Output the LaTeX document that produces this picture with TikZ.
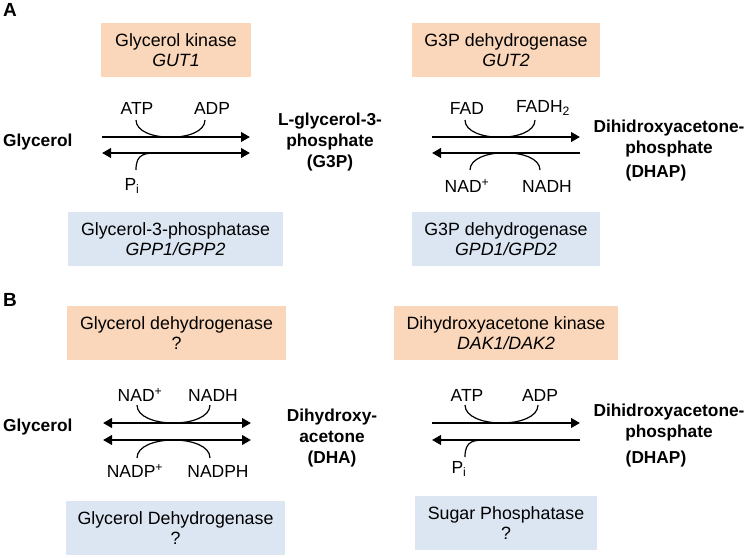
\documentclass[tikz,border=0pt]{standalone}
\usepackage{fontspec}
\setmainfont{Liberation Sans}
\usetikzlibrary{arrows.meta}
\definecolor{enzor}{HTML}{FAD7BA}
\definecolor{enzbl}{HTML}{DCE6F2}
\tikzset{
  every node/.style={font=\fontsize{17.8}{19.5}\selectfont, inner sep=0pt},
  orbox/.style={fill=enzor, align=center, minimum height=54pt},
  blbox/.style={fill=enzbl, align=center, minimum height=54pt},
  metab/.style={font=\fontsize{17.3}{21}\selectfont\bfseries, align=center},
  cof/.style={font=\fontsize{17.5}{19.5}\selectfont},
  panel/.style={font=\fontsize{19}{21}\selectfont\bfseries},
  fwd/.style={line width=2.5pt, -{Triangle[length=9pt,width=9.5pt]}},
  both/.style={line width=2.5pt, {Triangle[length=9pt,width=9.5pt]}-{Triangle[length=9pt,width=9.5pt]}},
  arc/.style={line width=1.2pt},
}
\begin{document}
\begin{tikzpicture}[x=1pt,y=-1pt]
\useasboundingbox (0,0) rectangle (749,557);

% ---------- Panel A ----------
\node[panel] (pA) at (10,10) {A};

\node[orbox, minimum width=150pt] (gk) at (176,50) {Glycerol kinase\\\textit{GUT1}};
\node[orbox, minimum width=188pt] (g3pdh1) at (506,50) {G3P dehydrogenase\\\textit{GUT2}};
\node[blbox, minimum width=215pt] (gpp) at (175.5,239) {Glycerol-3-phosphatase\\\textit{GPP1/GPP2}};
\node[blbox, minimum width=188pt] (gpd) at (506,239) {G3P dehydrogenase\\\textit{GPD1/GPD2}};

\node[metab, anchor=west] (glyA) at (3,142) {Glycerol};
\node[metab] (g3p) at (330,142) {L-glycerol-3-\\phosphate\\(G3P)};
\node[metab] (dhapA) at (669,151) {Dihidroxyacetone-\\phosphate\\[3pt](DHAP)\hspace*{26pt}};

% arrows A left
\coordinate (a1s) at (102,137); \coordinate (a1e) at (250,137);
\coordinate (a2s) at (102,153); \coordinate (a2e) at (250,153);
\draw[fwd] (a1s) -- (a1e);
\draw[both] (a2s) -- (a2e);
\node[cof] (atpA) at (137,108) {ATP};
\node[cof] (adpA) at (212,108) {ADP};
\node[cof] (piA) at (132,186) {P\textsubscript{i}};
\coordinate (atpAc) at (136,120); \coordinate (adpAc) at (205,120);
\draw[arc] (atpAc) .. controls (136,143) and (205,143) .. (adpAc);
\coordinate (piAc) at (136,170); \coordinate (piAm) at (160,153);
\draw[arc] (piAc) .. controls (136,153) and (145,153) .. (piAm);

% arrows A right
\coordinate (a3s) at (432,137); \coordinate (a3e) at (580,137);
\coordinate (a4s) at (580,153); \coordinate (a4e) at (432,153);
\draw[fwd] (a3s) -- (a3e);
\draw[fwd] (a4s) -- (a4e);
\node[cof] (fad) at (467,108) {FAD};
\node[cof] (fadh) at (543,108) {FADH\textsubscript{2}};
\node[cof] (nadA) at (467,186) {NAD\textsuperscript{+}};
\node[cof] (nadhA) at (547,186) {NADH};
\coordinate (fadc) at (465,120); \coordinate (fadhc) at (535,120);
\draw[arc] (fadc) .. controls (465,143) and (535,143) .. (fadhc);
\coordinate (nadAc) at (470,170); \coordinate (nadhAc) at (540,170);
\draw[arc] (nadAc) .. controls (470,147) and (540,147) .. (nadhAc);

% ---------- Panel B ----------
\node[panel] (pB) at (10,300) {B};

\node[orbox, minimum width=219pt] (gdh1) at (176.5,333) {Glycerol dehydrogenase\\?};
\node[orbox, minimum width=224pt] (dak) at (506,333) {Dihydroxyacetone kinase\\\textit{DAK1/DAK2}};
\node[blbox, minimum width=219pt] (gdh2) at (175.5,528) {Glycerol Dehydrogenase\\?};
\node[blbox, minimum width=182pt] (sp) at (506,523) {Sugar Phosphatase\\?};

\node[metab, anchor=west] (glyB) at (3,427) {Glycerol};
\node[metab] (dha) at (332,438) {Dihydroxy-\\acetone\\(DHA)};
\node[metab] (dhapB) at (669,436) {Dihidroxyacetone-\\phosphate\\[5pt](DHAP)\hspace*{26pt}};

% arrows B left
\coordinate (b1s) at (103,423); \coordinate (b1e) at (251,423);
\coordinate (b2s) at (103,440); \coordinate (b2e) at (251,440);
\draw[both] (b1s) -- (b1e);
\draw[both] (b2s) -- (b2e);
\node[cof] (nadB) at (140,395) {NAD\textsuperscript{+}};
\node[cof] (nadhB) at (213,395) {NADH};
\node[cof] (nadp) at (135,471) {NADP\textsuperscript{+}};
\node[cof] (nadph) at (218,471) {NADPH};
\coordinate (nadBc) at (137,405); \coordinate (nadhBc) at (210,405);
\draw[arc] (nadBc) .. controls (137,429) and (210,429) .. (nadhBc);
\coordinate (nadpc) at (137,458); \coordinate (nadphc) at (210,458);
\draw[arc] (nadpc) .. controls (137,434) and (210,434) .. (nadphc);

% arrows B right
\coordinate (b3s) at (432,423); \coordinate (b3e) at (580,423);
\coordinate (b4s) at (580,440); \coordinate (b4e) at (432,440);
\draw[fwd] (b3s) -- (b3e);
\draw[fwd] (b4s) -- (b4e);
\node[cof] (atpB) at (467,395) {ATP};
\node[cof] (adpB) at (540,395) {ADP};
\node[cof] (piB) at (459,469) {P\textsubscript{i}};
\coordinate (atpBc) at (465,405); \coordinate (adpBc) at (538,405);
\draw[arc] (atpBc) .. controls (465,429) and (538,429) .. (adpBc);
\coordinate (piBc) at (465,457); \coordinate (piBm) at (488,440);
\draw[arc] (piBc) .. controls (465,440) and (474,440) .. (piBm);
\end{tikzpicture}
\end{document}
